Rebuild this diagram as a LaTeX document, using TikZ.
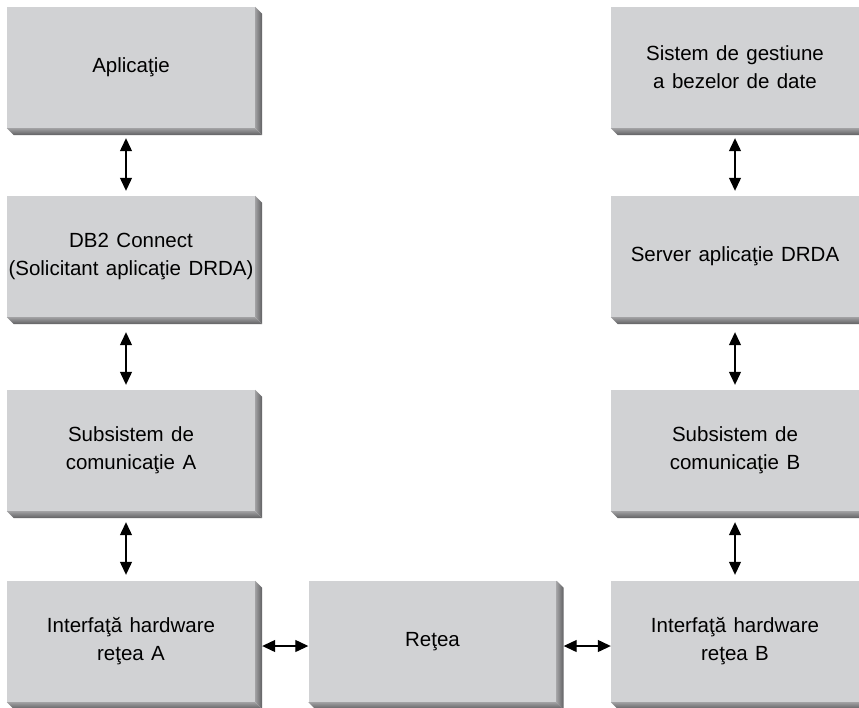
\documentclass[tikz,border=0pt]{standalone}
\usepackage{fontspec}
\setmainfont[WordSpace=1.3]{Liberation Sans}
\usetikzlibrary{arrows.meta}
\definecolor{cFace}{RGB}{209,210,212}
\definecolor{cBevelLt}{RGB}{160,160,162}
\definecolor{cBevelDk}{RGB}{95,95,97}
\tikzset{
	layer/.style={rectangle, minimum width=248pt, minimum height=121pt, inner sep=0pt, align=center, fill=cFace, font=\fontsize{20.5}{28}\selectfont},
	link/.style ={{Triangle[length=13pt,width=12pt]}-{Triangle[length=13pt,width=12pt]}, line width=1.2pt},
}
\begin{document}
\begin{tikzpicture}[x=1pt, y=-1pt]
	\clip (0,0) rectangle (859,707);
	% client side
	\node[layer] (app)  at (131,67.5)  {Aplicaţie};
	\node[layer] (db2)  at (131,256.5) {DB2 Connect\\(Solicitant aplicaţie DRDA)};
	\node[layer] (subA) at (131,450.5) {Subsistem de\\comunicaţie A};
	\node[layer] (ifA)  at (131,641.5) {Interfaţă hardware\\reţea A};
	\node[layer] (net)  at (432.5,641.5) {Reţea};
	% server side
	\node[layer] (dbms) at (735,67.5)  {Sistem de gestiune\\a bezelor de date};
	\node[layer] (srv)  at (735,256.5) {Server aplicaţie DRDA};
	\node[layer] (subB) at (735,450.5) {Subsistem de\\comunicaţie B};
	\node[layer] (ifB)  at (735,641.5) {Interfaţă hardware\\reţea B};
	% bevelled right and bottom edges
	\foreach \b in {app,db2,subA,ifA,net,dbms,srv,subB,ifB} {
		\shade[left color=cBevelLt, right color=cBevelDk] (\b.north east) -- ++(7,7) -- ([shift={(7,7)}]\b.south east) -- (\b.south east) -- cycle;
		\shade[top color=cBevelLt, bottom color=cBevelDk] (\b.south west) -- (\b.south east) -- ++(7,7) -- ([shift={(7,7)}]\b.south west) -- cycle;
	}
	% vertical links
	\draw[link, shorten <=10pt, shorten >=5pt] ([xshift=-5pt]app.south) -- ([xshift=-5pt]db2.north);
	\draw[link, shorten <=15pt, shorten >=5pt] ([xshift=-5pt]db2.south) -- ([xshift=-5pt]subA.north);
	\draw[link, shorten <=11pt, shorten >=6pt] ([xshift=-5pt]subA.south) -- ([xshift=-5pt]ifA.north);
	\draw[link, shorten <=10pt, shorten >=5pt] (dbms.south) -- (srv.north);
	\draw[link, shorten <=15pt, shorten >=5pt] (srv.south) -- (subB.north);
	\draw[link, shorten <=11pt, shorten >=6pt] (subB.south) -- (ifB.north);
	% horizontal links
	\draw[link, shorten <=7pt] ([yshift=-4.5pt]ifA.east) -- ([yshift=-4.5pt]net.west);
	\draw[link, shorten <=7pt] ([yshift=-4.5pt]net.east) -- ([yshift=-4.5pt]ifB.west);
\end{tikzpicture}
\end{document}
